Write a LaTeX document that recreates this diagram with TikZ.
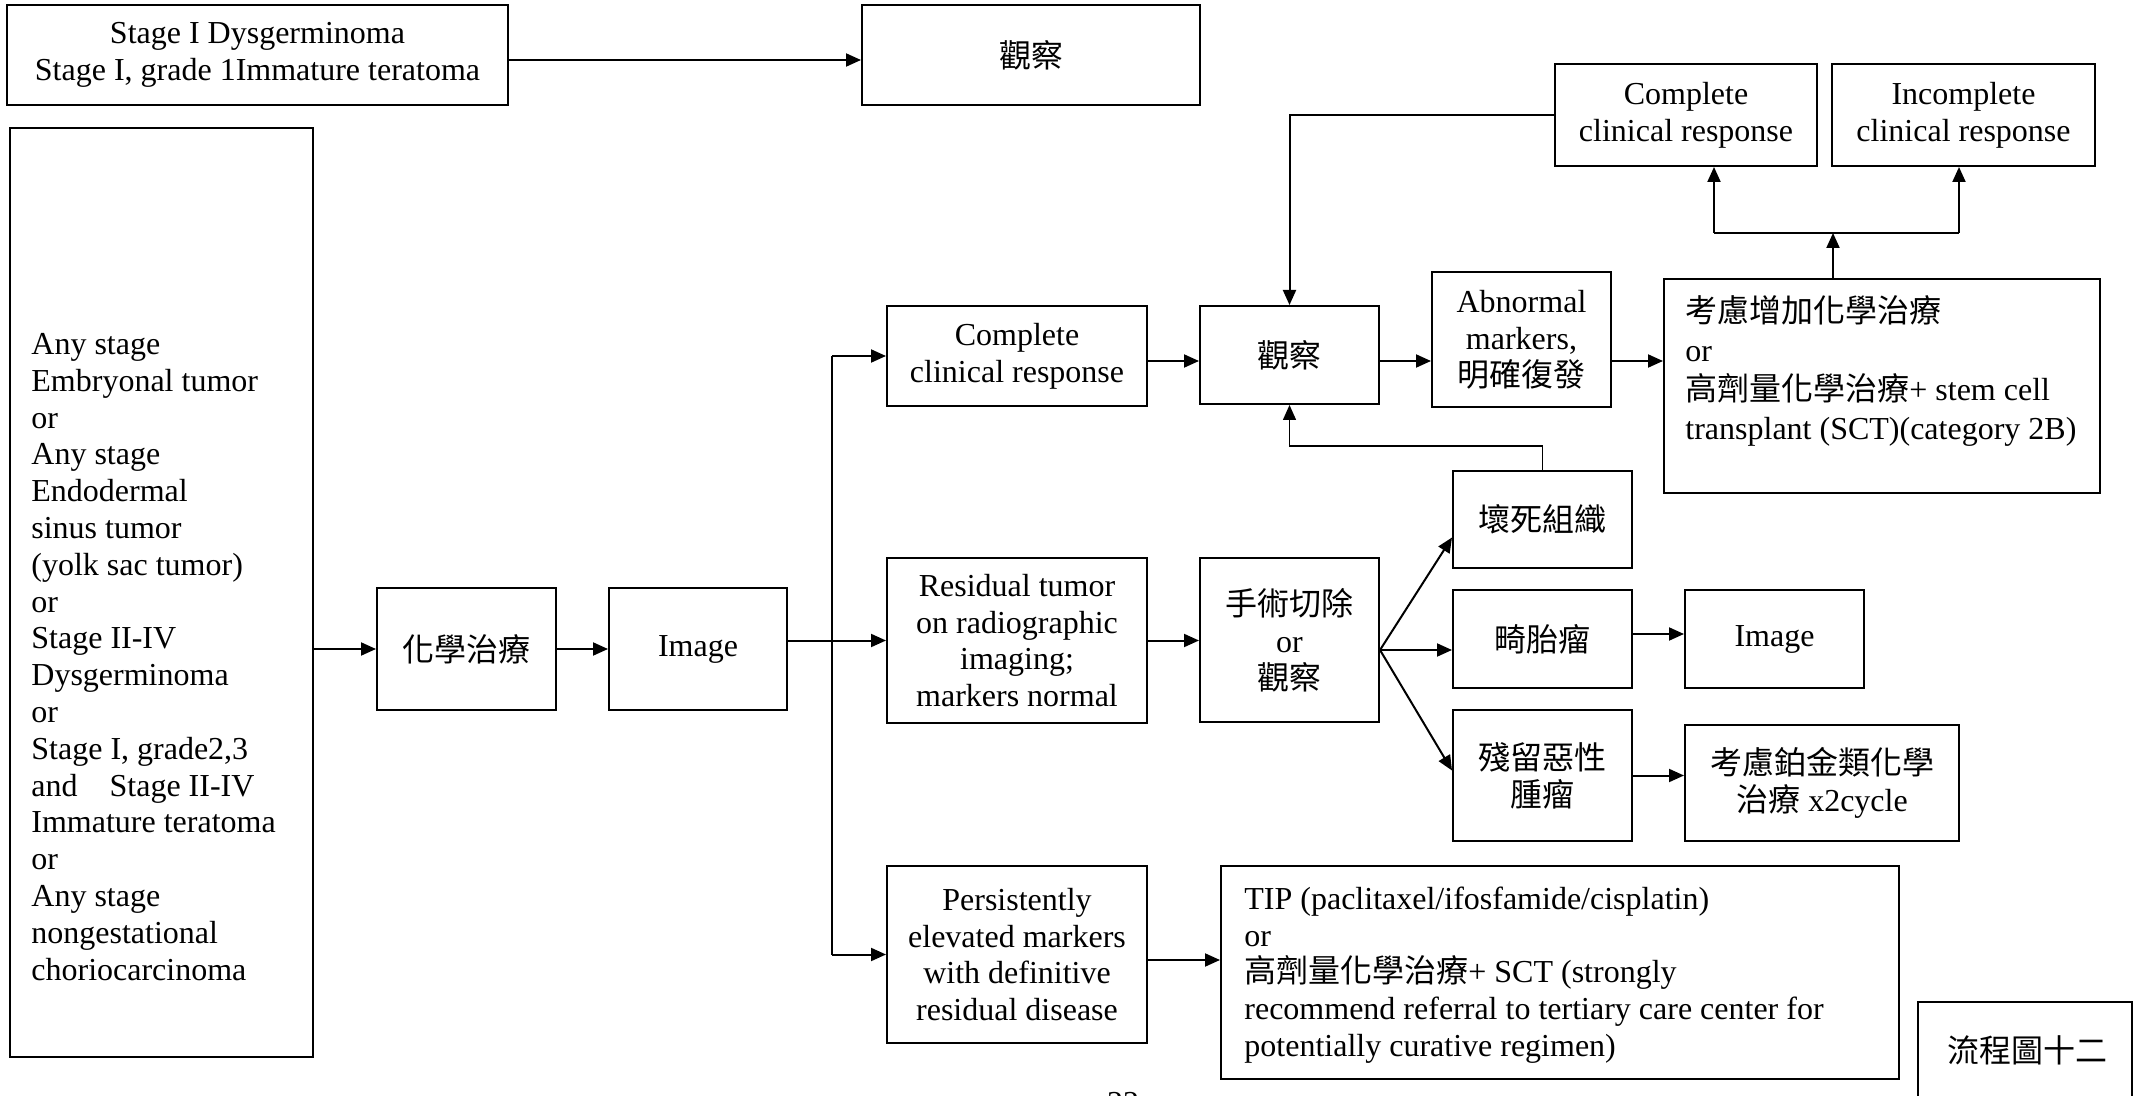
\documentclass[tikz,border=0pt]{standalone}
\usepackage{fontspec}
\setmainfont{Liberation Serif}
\newfontfamily\cjk{Noto Sans CJK TC}
\usetikzlibrary{arrows.meta}
\begin{document}
\begin{tikzpicture}[x=0.5pt,y=-0.5pt,
  box/.style={draw, line width=1pt, inner sep=0pt, align=center,
              font=\fontsize{16}{18.4}\selectfont},
  bsize/.style 2 args={minimum width=#1, minimum height=#2},
  txt/.style={inner sep=0pt, align=left, font=\fontsize{16}{18.4}\selectfont},
  conn/.style={line width=1pt},
  arr/.style={line width=1pt, -{Triangle[length=7.5pt,width=6.5pt]}},
  arrthin/.style={line width=0.7pt, -{Triangle[length=7.5pt,width=6.5pt]}},
]
\useasboundingbox[fill=white] (0,0) rectangle (2136,1096);

% ---- boxes ----
\node[box, bsize={250.5pt}{50pt}] (stageI) at (257.5,55) {Stage I Dysgerminoma\\Stage I, grade 1Immature teratoma};
\node[box, bsize={169pt}{50pt}] (topobs) at (1031,55) {\cjk 觀察};

\node[box, bsize={151.5pt}{464.5pt}] (cases) at (161.5,592.5) {};
\node[txt, anchor=north west] (casestxt) at (31,333) {Any stage\\Embryonal tumor\\or\\Any stage\\Endodermal\\sinus tumor\\(yolk sac tumor)\\or\\Stage II-IV\\Dysgerminoma\\or\\Stage I, grade2,3\\and\quad Stage II-IV\\Immature teratoma\\or\\Any stage\\nongestational\\choriocarcinoma};

\node[box, bsize={89.5pt}{61pt}] (chem) at (466.5,649) {\cjk 化學治療};
\node[box, bsize={89pt}{61pt}] (image) at (698,649) {Image};

\node[box, bsize={130pt}{50pt}] (cmid) at (1017,356) {Complete\\clinical response};
\node[box, bsize={130pt}{82.5pt}] (resid) at (1017,640.5) {Residual tumor\\on radiographic\\imaging;\\markers normal};
\node[box, bsize={130pt}{88.5pt}] (persist) at (1017,954.5) {Persistently\\elevated markers\\with definitive\\residual disease};

\node[box, bsize={89.5pt}{49pt}] (obs) at (1289.5,355) {\cjk 觀察};
\node[box, bsize={89.5pt}{67.5pt}] (abn) at (1521.5,339.5) {Abnormal\\markers,\\{\cjk 明確復發}};
\node[box, bsize={218pt}{107pt}] (more) at (1882,386) {};
\node[txt, anchor=north west, font=\fontsize{16}{19.5}\selectfont] (moretxt) at (1685,295)
  {{\cjk 考慮增加化學治療}\\or\\{\cjk 高劑量化學治療}+ stem cell\\transplant (SCT)(category 2B)};

\node[box, bsize={131pt}{51pt}] (ccr) at (1686,115) {Complete\\clinical response};
\node[box, bsize={131.5pt}{51pt}] (icr) at (1963.5,115) {Incomplete\\clinical response};

\node[box, bsize={89.5pt}{82pt}] (surg) at (1289.5,640) {{\cjk 手術切除}\\or\\{\cjk 觀察}};
\node[box, bsize={89.5pt}{48.5pt}] (necro) at (1542.5,519.5) {\cjk 壞死組織};
\node[box, bsize={89.5pt}{49pt}] (tera) at (1542.5,639) {\cjk 畸胎瘤};
\node[box, bsize={89.5pt}{49pt}] (img2) at (1774.5,639) {Image};
\node[box, bsize={89.5pt}{65.5pt}] (resm) at (1542.5,775.5) {{\cjk 殘留惡性}\\{\cjk 腫瘤}};
\node[box, bsize={137pt}{58pt}] (plat) at (1822,783) {{\cjk 考慮鉑金類化學}\\{\cjk 治療} x2cycle};

\node[box, bsize={339pt}{106.5pt}] (tip) at (1560,972.5) {};
\node[txt, anchor=west] (tiptxt) at (1244,975)
  {TIP (paclitaxel/ifosfamide/cisplatin)\\or\\{\cjk 高劑量化學治療}+ SCT (strongly\\recommend referral to tertiary care center for\\potentially curative regimen)};

\node[box, bsize={107pt}{69pt}] (flowbox) at (2025,1071) {};
\node[txt] (flowtxt) at (2027,1050) {\cjk 流程圖十二};

\node[txt, anchor=north] (pagenum) at (1123,1092) {22};

% ---- connectors ----
\coordinate (row0) at (0,60);
\draw[arr] (stageI.east |- row0) -- (topobs.west |- row0);
\draw[arr] (cases.east |- chem.west) -- (chem.west);
\draw[arr] (chem) -- (image);
\draw[arr] (image.east |- resid.west) -- (resid.west);

\coordinate (trunk) at (832,0);
\draw[conn] (cmid.west -| trunk) -- (persist.west -| trunk);
\draw[arr] (cmid.west -| trunk) -- (cmid.west);
\draw[arr] (persist.west -| trunk) -- (persist.west);

\coordinate (row1) at (0,361);
\draw[arr] (cmid.east |- row1) -- (obs.west |- row1);
\draw[arr] (obs.east |- row1) -- (abn.west |- row1);
\draw[arr] (abn.east |- row1) -- (more.west |- row1);

\coordinate (stem) at (1833,233);
\coordinate (bl) at (1714,233);
\coordinate (br) at (1959,233);
\draw[arr] (more.north -| stem) -- (stem);
\draw[conn] (bl) -- (br);
\draw[arr] (bl) -- (bl |- ccr.south);
\draw[arr] (br) -- (br |- icr.south);

\draw[arr] (ccr.west) -| (obs.north);

\coordinate (nb) at (0,446);
\draw[arrthin] (necro.north) -- (necro.north |- nb) -- (obs.south |- nb) -- (obs.south);

\draw[arr] (resid.east) -- (resid.east -| surg.west);
\coordinate (fan) at ([yshift=-5pt]surg.east);
\draw[arr] (fan) -- ([yshift=-9pt]necro.west);
\draw[arr] (fan) -- (tera.west |- fan);
\draw[arr] (fan) -- ([yshift=2.5pt]resm.west);

\draw[arr] ([yshift=2.5pt]tera.east) -- ([yshift=2.5pt]tera.east -| img2.west);
\draw[arr] (resm.east) -- (resm.east -| plat.west);
\draw[arr] (persist.east |- 0,960) -- (tip.west |- 0,960);
\end{tikzpicture}
\end{document}
